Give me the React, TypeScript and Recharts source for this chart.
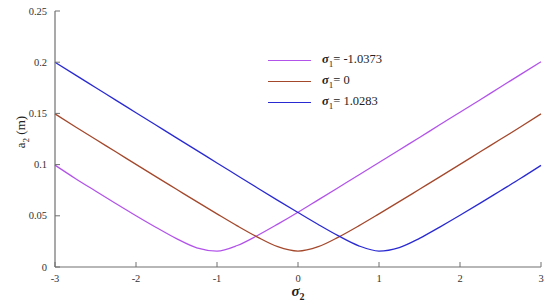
import React from 'react';
import { LineChart, Line, XAxis, YAxis } from 'recharts';

// sigma_2 sample points
const sigma2 = [
  -3, -2.75, -2.5, -2.25, -2, -1.75, -1.5, -1.25, -1, -0.75, -0.5, -0.25,
  0, 0.25, 0.5, 0.75, 1, 1.25, 1.5, 1.75, 2, 2.25, 2.5, 2.75, 3,
];

// a_2 (m) for each sigma_1
const aNeg = [
  0.0995, 0.0865, 0.0742, 0.062, 0.0501, 0.0386, 0.0277, 0.0187, 0.0156, 0.021, 0.0308, 0.0419,
  0.0535, 0.0656, 0.0777, 0.0898, 0.102, 0.1143, 0.1265, 0.1389, 0.1511, 0.1634, 0.1758, 0.1881, 0.2005,
];
const aZero = [
  0.1495, 0.137, 0.1247, 0.1125, 0.1002, 0.088, 0.0759, 0.0638, 0.0519, 0.0402, 0.0292, 0.0198,
  0.0155, 0.0198, 0.0292, 0.0402, 0.0519, 0.0638, 0.0759, 0.088, 0.1002, 0.1125, 0.1247, 0.137, 0.1495,
];
const aPos = [
  0.2, 0.1876, 0.1753, 0.163, 0.1507, 0.1384, 0.1261, 0.1139, 0.1016, 0.0894, 0.0772, 0.0651,
  0.0532, 0.0415, 0.0304, 0.0207, 0.0156, 0.019, 0.028, 0.039, 0.0505, 0.0624, 0.0745, 0.0866, 0.0992,
];

const xTicks = [-3, -2, -1, 0, 1, 2, 3];
const yTicks = [0, 0.05, 0.1, 0.15, 0.2, 0.25];

const series = [
  { key: 'neg', label: '-1.0373', color: '#b254ea' },
  { key: 'zero', label: '0', color: '#a4482c' },
  { key: 'pos', label: '1.0283', color: '#2a2ad2' },
];

const data = sigma2.map((x, i) => ({ x, neg: aNeg[i], zero: aZero[i], pos: aPos[i] }));

const FONT = "'Liberation Serif', 'Times New Roman', 'DejaVu Serif', serif";
const LEFT = 55;
const BOTTOM = 267;
const AXIS = '#707070';

const XTick = (props: any) => {
  const { x, payload } = props;
  return (
    <g>
      <line x1={x} y1={BOTTOM} x2={x} y2={BOTTOM - 5} stroke={AXIS} />
      <text x={x} y={BOTTOM + 15} textAnchor="middle" fill="#333" style={{ fontFamily: FONT, fontSize: 10.5 }}>
        {payload.value}
      </text>
    </g>
  );
};

const YTick = (props: any) => {
  const { y, payload } = props;
  return (
    <g>
      <line x1={LEFT} y1={y} x2={LEFT + 5} y2={y} stroke={AXIS} />
      <text x={LEFT - 8} y={y + 3.5} textAnchor="end" fill="#333" style={{ fontFamily: FONT, fontSize: 10.5 }}>
        {payload.value}
      </text>
    </g>
  );
};

export default function App() {
  return (
    <div style={{ position: 'absolute', left: 0, top: 0, width: 550, height: 306, background: '#fff' }}>
      <LineChart width={550} height={306} data={data} margin={{ top: 11, right: 9, bottom: 0, left: 0 }}>
        <XAxis
          dataKey="x"
          type="number"
          domain={[-3, 3]}
          ticks={xTicks}
          tickLine={false}
          tick={<XTick />}
          axisLine={{ stroke: AXIS, strokeWidth: 1.2 }}
          height={39}
        />
        <YAxis
          type="number"
          domain={[0, 0.25]}
          ticks={yTicks}
          width={LEFT}
          tickLine={false}
          tick={<YTick />}
          axisLine={{ stroke: AXIS, strokeWidth: 1.2 }}
        />
        {series.map((s) => (
          <Line
            key={s.key}
            dataKey={s.key}
            type="monotone"
            stroke={s.color}
            strokeWidth={1.3}
            dot={false}
            isAnimationActive={false}
          />
        ))}
      </LineChart>
      <div style={{ position: 'absolute', left: 268, top: 50, fontFamily: FONT, fontSize: 12.5, color: '#222' }}>
        {series.map((s) => (
          <div key={s.key} style={{ display: 'flex', alignItems: 'center', height: 21 }}>
            <span style={{ display: 'inline-block', width: 43, height: 0, borderTop: `1.3px solid ${s.color}`, marginRight: 11 }} />
            <span>
              <b><i>σ</i></b>
              <sub style={{ fontSize: 9 }}>1</sub>= {s.label}
            </span>
          </div>
        ))}
      </div>
      <div
        style={{
          position: 'absolute', left: 22, top: 132, transform: 'translate(-50%, -50%) rotate(-90deg)',
          fontFamily: FONT, fontSize: 13, color: '#222', whiteSpace: 'nowrap',
        }}
      >
        a<sub style={{ fontSize: 9 }}>2</sub> (m)
      </div>
      <div
        style={{
          position: 'absolute', left: 298, top: 292, transform: 'translate(-50%, -50%)',
          fontFamily: FONT, fontSize: 15, color: '#222', whiteSpace: 'nowrap',
        }}
      >
        <b><i>σ</i></b><sub style={{ fontSize: 10, fontWeight: 'bold' }}>2</sub>
      </div>
    </div>
  );
}
